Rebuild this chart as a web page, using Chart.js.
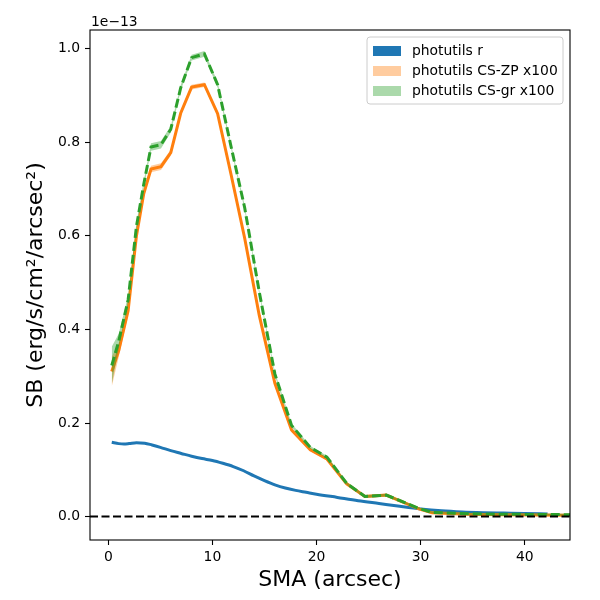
<!DOCTYPE html>
<html>
<head>
<meta charset="utf-8">
<script src="https://cdn.jsdelivr.net/npm/chart.js@4/dist/chart.umd.min.js"></script>
<style>
  html, body { margin: 0; padding: 0; background: #fff; }
  canvas { display: block; }
</style>
</head>
<body>
<canvas id="chart" width="600" height="600"></canvas>
<script>
// values in units of 1e-13 erg/s/cm^2/arcsec^2
const smaR = [0.33, 1.0, 1.5, 2.0, 2.7, 3.5, 4.2, 5.0, 6.0, 7.0, 8.0, 9.0, 10.0, 11.0, 12.0, 13.0, 14.0, 15.0, 16.0, 17.0, 18.0, 19.0, 20.0, 22.0, 24.0, 26.0, 28.0, 30.0, 32.0, 34.0, 36.0, 38.0, 40.0, 42.2]
const sbR = [0.159, 0.156, 0.155, 0.156, 0.158, 0.157, 0.153, 0.148, 0.141, 0.135, 0.129, 0.124, 0.120, 0.114, 0.107, 0.098, 0.087, 0.077, 0.068, 0.061, 0.056, 0.052, 0.048, 0.041, 0.034, 0.028, 0.022, 0.0165, 0.0125, 0.010, 0.0085, 0.0075, 0.0065, 0.0058]

const smaCS = [0.33, 1.0, 1.9, 2.7, 3.4, 4.1, 5.06, 6.0, 6.95, 8.0, 9.23, 10.5, 11.8, 13.1, 14.5, 16.0, 17.6, 19.4, 21.0, 22.9, 24.65, 26.7, 29.9, 31.1, 34.5, 38.0, 41.5, 45.0]
const sbZP = [0.31, 0.355, 0.44, 0.60, 0.69, 0.743, 0.748, 0.778, 0.862, 0.918, 0.923, 0.861, 0.73, 0.595, 0.43, 0.285, 0.185, 0.143, 0.123, 0.07, 0.043, 0.046, 0.016, 0.008, 0.005, 0.004, 0.0035, 0.003]
const errZP = [0.032, 0.014, 0.009, 0.007, 0.006, 0.007, 0.007, 0.006, 0.005, 0.005, 0.005, 0.005, 0.005, 0.005, 0.004, 0.004, 0.004, 0.003, 0.003, 0.003, 0.003, 0.003, 0.002, 0.002, 0.002, 0.002, 0.002, 0.002]
const sbGR = [0.323, 0.375, 0.463, 0.62, 0.71, 0.79, 0.795, 0.828, 0.916, 0.981, 0.989, 0.923, 0.79, 0.66, 0.48, 0.305, 0.195, 0.148, 0.127, 0.071, 0.043, 0.046, 0.017, 0.009, 0.006, 0.005, 0.0045, 0.004]
const errGR = [0.04, 0.016, 0.009, 0.008, 0.007, 0.008, 0.008, 0.007, 0.006, 0.006, 0.006, 0.006, 0.005, 0.005, 0.005, 0.004, 0.004, 0.003, 0.003, 0.003, 0.003, 0.003, 0.002, 0.002, 0.002, 0.002, 0.002, 0.002]

const xLimits = [-1.76, 44.35]
const yLimits = [-0.05, 1.04]
const xTicks = [0, 10, 20, 30, 40]
const yTicks = [0.0, 0.2, 0.4, 0.6, 0.8, 1.0]

const legendLabels = ["photutils r", "photutils CS-ZP x100", "photutils CS-gr x100"]
const legendColors = ["#1f77b4", "rgba(255,127,14,0.4)", "rgba(44,160,44,0.4)"]

const FONT = "'DejaVu Sans', sans-serif"

const pts = (xs, ys) => xs.map((x, i) => ({ x: x, y: ys[i] }))
const shift = (ys, es, s) => ys.map((y, i) => y + s * es[i])

const band = (ys, es, color, order) => [
  {
    data: pts(smaCS, shift(ys, es, -1)),
    borderWidth: 0, pointRadius: 0, showLine: true, fill: false, order: order,
  },
  {
    data: pts(smaCS, shift(ys, es, 1)),
    borderWidth: 0, pointRadius: 0, showLine: true,
    fill: "-1", backgroundColor: color, order: order,
  },
]

// frame, offset text and legend, drawn like matplotlib
const decorations = {
  id: "decorations",
  afterDraw(chart) {
    const { ctx, chartArea: a } = chart
    ctx.save()
    ctx.strokeStyle = "#000"
    ctx.lineWidth = 1.1
    ctx.strokeRect(a.left, a.top, a.right - a.left, a.bottom - a.top)

    ctx.fillStyle = "#000"
    ctx.font = "13.9px " + FONT
    ctx.textAlign = "left"
    ctx.textBaseline = "alphabetic"
    ctx.fillText("1e\u221213", a.left + 1, 26)

    // legend box
    const bx = 367, by = 37, bw = 196, bh = 67, r = 3
    ctx.beginPath()
    ctx.moveTo(bx + r, by)
    ctx.arcTo(bx + bw, by, bx + bw, by + bh, r)
    ctx.arcTo(bx + bw, by + bh, bx, by + bh, r)
    ctx.arcTo(bx, by + bh, bx, by, r)
    ctx.arcTo(bx, by, bx + bw, by, r)
    ctx.closePath()
    ctx.fillStyle = "rgba(255,255,255,0.8)"
    ctx.fill()
    ctx.strokeStyle = "#cccccc"
    ctx.lineWidth = 1
    ctx.stroke()

    ctx.textBaseline = "middle"
    legendLabels.forEach((label, i) => {
      const cy = 51 + i * 20
      ctx.fillStyle = legendColors[i]
      ctx.fillRect(373, cy - 5, 28, 10)
      ctx.fillStyle = "#000"
      ctx.fillText(label, 412, cy)
    })
    ctx.restore()
  },
}

new Chart(document.getElementById("chart"), {
  type: "scatter",
  data: {
    datasets: [
      {
        // y = 0 reference line
        data: pts(xLimits, [0, 0]),
        showLine: true, pointRadius: 0,
        borderColor: "#000", borderWidth: 2, borderDash: [8, 3.5],
        order: 0,
      },
      {
        data: pts(smaCS, sbGR),
        showLine: true, pointRadius: 0,
        borderColor: "#2ca02c", borderWidth: 3, borderDash: [9, 4],
        order: 1,
      },
      ...band(sbGR, errGR, "rgba(44,160,44,0.4)", 2),
      {
        data: pts(smaCS, sbZP),
        showLine: true, pointRadius: 0,
        borderColor: "#ff7f0e", borderWidth: 3,
        order: 3,
      },
      ...band(sbZP, errZP, "rgba(255,127,14,0.4)", 4),
      {
        data: pts(smaR, sbR),
        showLine: true, pointRadius: 0,
        borderColor: "#1f77b4", borderWidth: 3, cubicInterpolationMode: "monotone",
        order: 5,
      },
    ],
  },
  options: {
    responsive: false,
    animation: false,
    devicePixelRatio: 1,
    layout: { padding: { top: 30, right: 30, left: 0, bottom: 0 } },
    plugins: { legend: { display: false }, tooltip: { enabled: false } },
    scales: {
      x: {
        type: "linear",
        min: xLimits[0],
        max: xLimits[1],
        afterBuildTicks: scale => { scale.ticks = xTicks.map(v => ({ value: v })) },
        afterFit: scale => { scale.height = 60 },
        grid: { drawOnChartArea: false, tickLength: 5, tickColor: "#000", tickWidth: 1.1 },
        border: { display: false },
        ticks: { color: "#000", font: { family: FONT, size: 13.9 }, padding: 4, maxRotation: 0 },
        title: {
          display: true, text: "SMA (arcsec)", color: "#000",
          font: { family: FONT, size: 22 }, padding: { top: 0, bottom: 7 },
        },
      },
      y: {
        type: "linear",
        min: yLimits[0],
        max: yLimits[1],
        afterBuildTicks: scale => { scale.ticks = yTicks.map(v => ({ value: v })) },
        afterFit: scale => { scale.width = 90 },
        grid: { drawOnChartArea: false, tickLength: 5, tickColor: "#000", tickWidth: 1.1 },
        border: { display: false },
        ticks: {
          color: "#000", font: { family: FONT, size: 13.9 }, padding: 5,
          callback: v => v.toFixed(1),
        },
        title: {
          display: true, text: "SB (erg/s/cm\u00b2/arcsec\u00b2)", color: "#000",
          font: { family: FONT, size: 22 }, padding: { top: 23, bottom: 0 },
        },
      },
    },
  },
  plugins: [decorations],
})
</script>
</body>
</html>
